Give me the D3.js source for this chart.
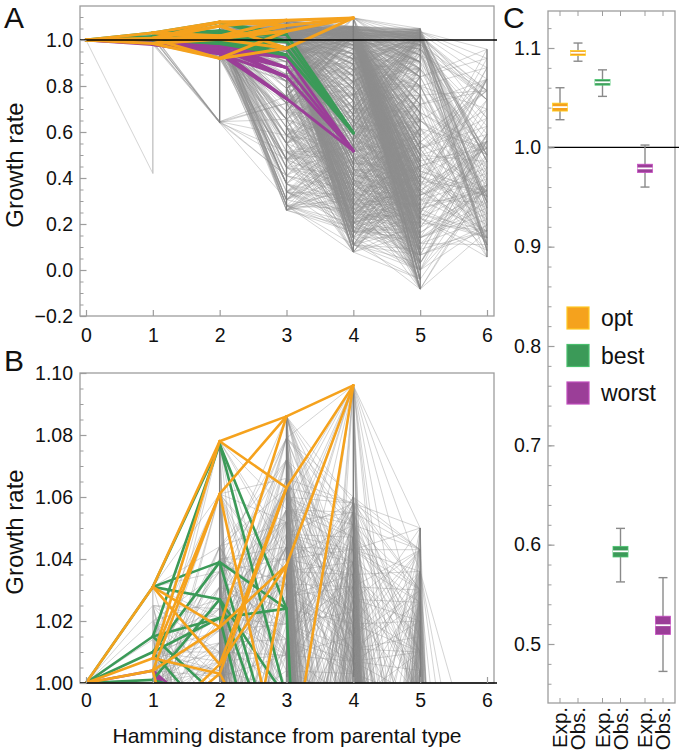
<!DOCTYPE html>
<html><head><meta charset="utf-8">
<script src="https://cdn.jsdelivr.net/npm/d3@7"></script>
<style>
body{margin:0;background:#fff}
svg{display:block}
text{font-family:"Liberation Sans",Arial,Helvetica,sans-serif;fill:#111}
</style>
</head><body>
<svg id="chart" width="680" height="754"></svg>
<script>
// ---------------- DATA ----------------
const distances = [0, 1, 2, 3, 4, 5, 6];

// growth rates of genotypes at each Hamming distance (grey landscape)
const greyL0 = [1.000];
const greyL1 = [1.031, 1.025, 1.020, 1.014, 1.010, 1.008, 1.004, 1.000, 0.995, 0.990, 0.985, 0.980];
const greyL1Dead = [0.42];
const greyL2 = [1.078, 1.061, 1.044, 1.040, 1.036, 1.031, 1.027, 1.024, 1.021, 1.017, 1.013, 1.010, 1.007, 1.004, 1.002, 0.997, 0.988, 0.975, 0.962, 0.950, 0.938, 0.928, 0.920, 0.645, 0.640];
const greyL3 = [1.086, 1.079, 1.072, 1.066, 1.063, 1.060, 1.056, 1.052, 1.048, 1.044, 1.040, 1.036, 1.032, 1.028, 1.024, 1.019, 1.014, 1.009, 1.004, 0.998, 0.985, 0.968, 0.950, 0.930, 0.905, 0.880, 0.850, 0.820, 0.790, 0.755, 0.725, 0.690, 0.655, 0.620, 0.585, 0.550, 0.515, 0.480, 0.445, 0.410, 0.375, 0.340, 0.305, 0.280, 0.260];
const greyL4 = [1.096, 1.060, 1.058, 1.055, 1.051, 1.047, 1.043, 1.039, 1.035, 1.031, 1.027, 1.023, 1.019, 1.015, 1.011, 1.007, 1.003, 0.994, 0.980, 0.962, 0.940, 0.918, 0.895, 0.870, 0.845, 0.818, 0.790, 0.762, 0.735, 0.705, 0.676, 0.648, 0.620, 0.592, 0.565, 0.538, 0.512, 0.487, 0.462, 0.438, 0.414, 0.392, 0.370, 0.348, 0.326, 0.305, 0.285, 0.265, 0.245, 0.225, 0.205, 0.185, 0.165, 0.140, 0.110, 0.078];
const greyL5 = [1.050, 1.043, 1.036, 1.030, 1.026, 1.020, 1.015, 1.010, 1.004, 0.995, 0.980, 0.960, 0.935, 0.905, 0.875, 0.840, 0.800, 0.760, 0.720, 0.685, 0.650, 0.615, 0.585, 0.555, 0.528, 0.500, 0.475, 0.452, 0.430, 0.408, 0.386, 0.365, 0.345, 0.325, 0.305, 0.285, 0.265, 0.245, 0.225, 0.205, 0.185, 0.162, 0.140, 0.115, 0.090, 0.065, 0.030, 0.000, -0.040, -0.083];
const greyL6 = [0.960, 0.920, 0.880, 0.830, 0.780, 0.740, 0.700, 0.660, 0.625, 0.590, 0.560, 0.530, 0.500, 0.472, 0.445, 0.420, 0.395, 0.370, 0.345, 0.320, 0.295, 0.270, 0.245, 0.220, 0.195, 0.170, 0.140, 0.110, 0.085, 0.056];

// adjacency table (fixed digit string) used to decide which genotypes are one mutation apart
const adjacencyDigits = "3141592653589793238462643383279502884197169399375105820974944592307816406286208998628034825342117067";
// per gap: [a, b, shift, percent linked, max gain]
const linkRule = [[1, 1, 0, 100, 1], [7, 11, 5, 36, 0.1], [13, 7, 31, 30, 0.12], [17, 9, 47, 33, 0.35], [11, 13, 71, 34, 0.5], [9, 17, 19, 19, 0.6]];

// coloured 4-mutation sub-landscapes (levels 1..4 of a 4-cube)
const optL1 = [1.031, 1.008, 1.004, 0.985];
const optL2 = [1.078, 1.018, 1.006, 1.061, 1.003, 0.920];
const optL3 = [1.086, 1.063, 1.038, 0.964];
const optL4 = [1.096];
const bestL1 = [1.031, 1.015, 1.010, 1.001];
const bestL2 = [1.077, 1.039, 1.027, 1.021, 0.995, 0.985];
const bestL3 = [1.024, 0.995, 0.965, 0.935];
const bestL4 = [0.596];
const worstL1 = [1.004, 0.990, 0.985, 0.980];
const worstL2 = [0.985, 0.975, 0.965, 0.955, 0.950, 0.940];
const worstL3 = [0.925, 0.880, 0.840, 0.745];
const worstL4 = [0.518];

// panel C
const groups = ["opt", "best", "worst"];
const kinds = ["Exp.", "Obs."];
const colors = ["#F5A21D", "#3B9A58", "#9B3E98"];
const expLo = [1.0278, 1.0513, 0.9600];
const expQ1 = [1.0365, 1.0626, 0.9746];
const expMed = [1.0405, 1.0655, 0.9788];
const expQ3 = [1.0445, 1.0683, 0.9830];
const expHi = [1.0600, 1.0780, 1.0023];
const obsLo = [1.0867, 0.5625, 0.4724];
const obsQ1 = [1.0925, 0.5876, 0.5096];
const obsMed = [1.0952, 0.5933, 0.5189];
const obsQ3 = [1.0975, 0.5983, 0.5280];
const obsHi = [1.1050, 0.6164, 0.5668];

// ticks
const ticksA = [-0.2, 0, 0.2, 0.4, 0.6, 0.8, 1.0];
const ticksB = [1.00, 1.02, 1.04, 1.06, 1.08, 1.10];
const ticksC = [0.5, 0.6, 0.7, 0.8, 0.9, 1.0, 1.1];

// ---------------- BUILD ----------------
const svg = d3.select("#chart");
const GREY_FRAME = "#9d9d9d";
const N = adjacencyDigits.length;
const dig = i => +adjacencyDigits[((i % N) + N) % N];

const greyLevels = [greyL0, greyL1, greyL2, greyL3, greyL4, greyL5, greyL6];
const greyEdges = [];
for (let k = 0; k < greyLevels.length - 1; k++) {
  const [a, b, s, pct, gain] = linkRule[k];
  greyLevels[k].forEach((v, i) => greyLevels[k + 1].forEach((w, j) => {
    const idx = a * i + b * j + s;
    const r = dig(idx) * 10 + dig(idx + 37);
    if (r < pct && w <= v + gain) greyEdges.push([k, v, k + 1, w]);
  }));
}
greyL1Dead.forEach(w => greyEdges.push([0, greyL0[0], 1, w]));

const cubeSets = [[0], [1, 2, 4, 8], [3, 5, 9, 6, 10, 12], [7, 11, 13, 14], [15]];
function cubeEdges(L1, L2, L3, L4) {
  const vals = [[1.0], L1, L2, L3, L4];
  const e = [];
  for (let k = 0; k < 4; k++) {
    cubeSets[k].forEach((s, i) => cubeSets[k + 1].forEach((t, j) => {
      if ((s & t) === s) e.push([k, vals[k][i], k + 1, vals[k + 1][j]]);
    }));
  }
  return e;
}
const colored = [
  {edges: cubeEdges(worstL1, worstL2, worstL3, worstL4), color: colors[2]},
  {edges: cubeEdges(bestL1, bestL2, bestL3, bestL4), color: colors[1]},
  {edges: cubeEdges(optL1, optL2, optL3, optL4), color: colors[0]}
];

const x = d3.scaleLinear().domain([0, 6]).range([86, 487]);

function landscape(id, y, box, ticks, minorStep, fmt, lw, xPad) {
  const g = svg.append("g");
  g.append("clipPath").attr("id", id).append("rect")
    .attr("x", box.x0).attr("y", box.y0).attr("width", box.x1 - box.x0).attr("height", box.y1 - box.y0);
  const p = g.append("g").attr("clip-path", `url(#${id})`);
  p.selectAll("line.e").data(greyEdges).join("line")
    .attr("x1", d => x(d[0])).attr("y1", d => y(d[1]))
    .attr("x2", d => x(d[2])).attr("y2", d => y(d[3]))
    .attr("stroke", "#8c8c8c").attr("stroke-opacity", 0.42).attr("stroke-width", 0.9);
  // vertical range line at every distance
  greyLevels.forEach((L, k) => {
    if (k === 0) return;
    const vals = k === 1 ? L.concat(greyL1Dead) : L;
    p.append("line").attr("x1", x(k)).attr("x2", x(k))
      .attr("y1", y(d3.max(vals))).attr("y2", y(d3.min(vals)))
      .attr("stroke", k === 1 ? "#c4c4c4" : "#7d7d7d").attr("stroke-width", 1.4);
  });
  colored.forEach(c => {
    p.selectAll(null).data(c.edges).join("line")
      .attr("x1", d => x(d[0])).attr("y1", d => y(d[1]))
      .attr("x2", d => x(d[2])).attr("y2", d => y(d[3]))
      .attr("stroke", c.color).attr("stroke-width", lw).attr("stroke-linecap", "round");
  });
  // frame
  g.append("rect").attr("x", box.x0).attr("y", box.y0).attr("width", box.x1 - box.x0).attr("height", box.y1 - box.y0)
    .attr("fill", "none").attr("stroke", GREY_FRAME).attr("stroke-width", 1.3);
  // reference line at 1
  g.append("line").attr("x1", box.x0).attr("x2", 497).attr("y1", y(1)).attr("y2", y(1))
    .attr("stroke", "#000").attr("stroke-width", 1.3);
  // y axis
  const [d0, d1] = [y.invert(box.y1), y.invert(box.y0)];
  const minors = d3.range(Math.ceil(d0 / minorStep - 1e-6), Math.floor(d1 / minorStep + 1e-6) + 1).map(i => +(i * minorStep).toFixed(4));
  const ya = g.append("g").attr("transform", `translate(${box.x0},0)`)
    .call(d3.axisLeft(y).tickValues(minors).tickSize(-3.5).tickFormat(""));
  ya.select(".domain").remove();
  ya.selectAll("line").attr("stroke", GREY_FRAME);
  const yb = g.append("g").attr("transform", `translate(${box.x0},0)`)
    .call(d3.axisLeft(y).tickValues(ticks).tickSize(-6.5).tickPadding(7).tickFormat(d3.format(fmt)));
  yb.select(".domain").remove();
  yb.selectAll("line").attr("stroke", GREY_FRAME).attr("stroke-width", 1.2);
  yb.selectAll("text").attr("font-size", 19.5).attr("fill", "#111");
  // x axis
  const xa = g.append("g").attr("transform", `translate(0,${box.y1})`)
    .call(d3.axisBottom(x).tickValues(distances).tickSize(-6).tickPadding(xPad).tickFormat(d3.format("d")));
  xa.select(".domain").remove();
  xa.selectAll("line").attr("stroke", GREY_FRAME).attr("stroke-width", 1.2);
  xa.selectAll("text").attr("font-size", 19.5).attr("fill", "#111");
  // y title
  g.append("text").attr("transform", `translate(23,${(box.y0 + box.y1) / 2 + 4}) rotate(-90)`)
    .attr("text-anchor", "middle").attr("font-size", 24).text("Growth rate");
}

const yA = d3.scaleLinear().domain([-0.2, 1.0]).range([316, 40]);
const yB = d3.scaleLinear().domain([1.0, 1.1]).range([683, 373]);
landscape("clipA", yA, {x0: 80, x1: 494, y0: 6, y1: 316}, ticksA, 0.05, ".1f", 3, 12.3);
landscape("clipB", yB, {x0: 80, x1: 494, y0: 373, y1: 683}, ticksB, 0.005, ".2f", 2.6, 10.3);

svg.append("text").attr("x", 287).attr("y", 743).attr("text-anchor", "middle")
  .attr("font-size", 21).text("Hamming distance from parental type");

// panel letters
[["A", 4, 28], ["B", 4, 371], ["C", 503, 28]].forEach(([t, px, py]) =>
  svg.append("text").attr("x", px).attr("y", py).attr("font-size", 30).text(t));

// ---------------- PANEL C ----------------
const yC = d3.scaleLinear().domain([0.5, 1.1]).range([644, 48]);
const boxC = {x0: 548, x1: 675, y0: 11, y1: 703};
const xg = d3.scalePoint().domain(groups).range([560, 645]);
const off = {"Exp.": 0, "Obs.": 18};
const gc = svg.append("g");
gc.append("rect").attr("x", boxC.x0).attr("y", boxC.y0).attr("width", boxC.x1 - boxC.x0).attr("height", boxC.y1 - boxC.y0)
  .attr("fill", "none").attr("stroke", GREY_FRAME).attr("stroke-width", 1.3);
gc.append("line").attr("x1", boxC.x0).attr("x2", 679).attr("y1", yC(1)).attr("y2", yC(1))
  .attr("stroke", "#000").attr("stroke-width", 1.3);

const minorsC = d3.range(23, 57).map(i => +(i * 0.02).toFixed(3));
const yca = gc.append("g").attr("transform", `translate(${boxC.x0},0)`)
  .call(d3.axisLeft(yC).tickValues(minorsC).tickSize(-3.5).tickFormat(""));
yca.select(".domain").remove();
yca.selectAll("line").attr("stroke", GREY_FRAME);
const ycb = gc.append("g").attr("transform", `translate(${boxC.x0},0)`)
  .call(d3.axisLeft(yC).tickValues(ticksC).tickSize(-6.5).tickPadding(7).tickFormat(d3.format(".1f")));
ycb.select(".domain").remove();
ycb.selectAll("line").attr("stroke", GREY_FRAME).attr("stroke-width", 1.2);
ycb.selectAll("text").attr("font-size", 19.5).attr("fill", "#111");

const cats = [];
groups.forEach((gname, i) => kinds.forEach(k => cats.push({g: gname, k, i})));
cats.forEach(c => {
  const cx = xg(c.g) + off[c.k];
  gc.append("line").attr("x1", cx).attr("x2", cx).attr("y1", boxC.y1).attr("y2", boxC.y1 - 5).attr("stroke", GREY_FRAME);
  gc.append("line").attr("x1", cx).attr("x2", cx).attr("y1", boxC.y0).attr("y2", boxC.y0 + 5).attr("stroke", GREY_FRAME);
  gc.append("text").attr("transform", `translate(${cx},${boxC.y1 + 4}) rotate(-90)`)
    .attr("text-anchor", "end").attr("dy", "0.36em").attr("font-size", 20.5).text(c.k);
});

const stats = {"Exp.": [expLo, expQ1, expMed, expQ3, expHi], "Obs.": [obsLo, obsQ1, obsMed, obsQ3, obsHi]};
cats.forEach(c => {
  const [lo, q1, md, q3, hi] = stats[c.k].map(a => a[c.i]);
  const cx = xg(c.g) + off[c.k];
  const col = colors[c.i];
  const bw = 15, cw = 9;
  gc.append("line").attr("x1", cx).attr("x2", cx).attr("y1", yC(hi)).attr("y2", yC(lo)).attr("stroke", "#8a8a8a").attr("stroke-width", 1.4);
  [hi, lo].forEach(v => gc.append("line").attr("x1", cx - cw / 2).attr("x2", cx + cw / 2).attr("y1", yC(v)).attr("y2", yC(v))
    .attr("stroke", "#8a8a8a").attr("stroke-width", 1.4));
  gc.append("rect").attr("x", cx - bw / 2).attr("width", bw).attr("y", yC(q3)).attr("height", yC(q1) - yC(q3))
    .attr("fill", col).attr("stroke", d3.color(col).brighter(0.7)).attr("stroke-width", 0.8);
  gc.append("line").attr("x1", cx - bw / 2).attr("x2", cx + bw / 2).attr("y1", yC(md)).attr("y2", yC(md))
    .attr("stroke", "#fff").attr("stroke-width", 1.8);
});

// legend
groups.forEach((gname, i) => {
  const ly = 307 + i * 37.5;
  gc.append("rect").attr("x", 567).attr("y", ly).attr("width", 22).attr("height", 22)
    .attr("fill", colors[i]).attr("stroke", d3.color(colors[i]).brighter(0.6)).attr("stroke-width", 1.2);
  gc.append("text").attr("x", 601).attr("y", ly + 19).attr("font-size", 23).text(gname);
});
</script>
</body></html>
